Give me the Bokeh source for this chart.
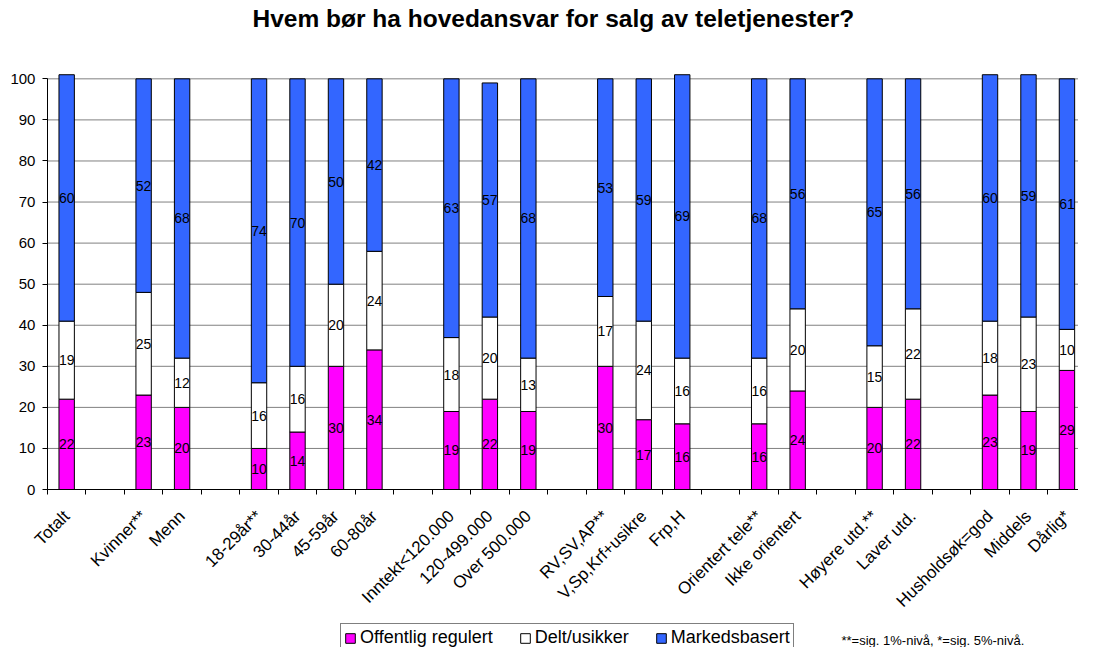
import math
from bokeh.plotting import figure
from bokeh.models import ColumnDataSource, FixedTicker, Range1d, Legend, LegendItem, Title, Label
from bokeh.embed import file_html
from bokeh.resources import INLINE
from bokeh.core.properties import value

# ---- data ----
slots = ["Totalt", "", "Kvinner**", "Menn", "", "18-29år**", "30-44år", "45-59år",
         "60-80år", "", "Inntekt<120.000", "120-499.000", "Over 500.000", "",
         "RV,SV,AP**", "V,Sp,Krf+usikre", "Frp,H", "", "Orientert tele**",
         "Ikke orientert", "", "Høyere utd.**", "Laver utd.", "", "Husholdsøk=god",
         "Middels", "Dårlig*"]
categories = [c for c in slots if c]
offentlig = [22, 23, 20, 10, 14, 30, 34, 19, 22, 19, 30, 17, 16, 16, 24, 20, 22, 23, 19, 29]
delt = [19, 25, 12, 16, 16, 20, 24, 18, 20, 13, 17, 24, 16, 16, 20, 15, 22, 18, 23, 10]
marked = [60, 52, 68, 74, 70, 50, 42, 63, 57, 68, 53, 59, 69, 68, 56, 65, 56, 60, 59, 61]
series_names = ["Offentlig regulert", "Delt/usikker", "Markedsbasert"]
y_ticks = [0, 10, 20, 30, 40, 50, 60, 70, 80, 90, 100]
title_text = "Hvem bør ha hovedansvar for salg av teletjenester?"
note_text = "**=sig. 1%-nivå, *=sig. 5%-nivå."

colors = ["#FF00FF", "#FFFFFF", "#3366FF"]
FONT = "Liberation Sans"

xs = [slots.index(c) for c in categories]
b0 = [0] * len(categories)
t0 = [a for a in offentlig]
t1 = [a + b for a, b in zip(offentlig, delt)]
t2 = [a + b + c for a, b, c in zip(offentlig, delt, marked)]

src = ColumnDataSource(dict(
    x=xs, b0=b0, t0=t0, t1=t1, t2=t2,
    m0=[(a + b) / 2 for a, b in zip(b0, t0)],
    m1=[(a + b) / 2 for a, b in zip(t0, t1)],
    m2=[(a + b) / 2 for a, b in zip(t1, t2)],
    l0=[str(v) for v in offentlig],
    l1=[str(v) for v in delt],
    l2=[str(v) for v in marked],
))

X_START, X_END = -1.72, 26.3
AXIS_X = -0.5

W, H = 1078, 647
# the frame fills the canvas below the title; both axes are pinned inside it
p = figure(width=W, height=H, output_backend="svg", toolbar_location=None,
           title=None,
           x_range=Range1d(X_START, X_END), y_range=Range1d(-38.47, 101.3),
           min_border_left=0, min_border_right=0, min_border_top=73,
           min_border_bottom=0)
p.outline_line_color = None
p.background_fill_color = "white"
p.border_fill_color = "white"

# spacer between frame and title, then the title itself
spacer = Title(text=" ", text_font_size="10px", standoff=26)
p.add_layout(spacer, "above")
main_title = Title(text=title_text, align="left", vertical_align="top",
                   offset=252, standoff=2, text_font=FONT,
                   text_font_size="24.5px", text_font_style="bold",
                   text_color="black")
p.add_layout(main_title, "above")

# horizontal gridlines from the y axis to the right edge
p.segment(x0=[AXIS_X] * len(y_ticks), x1=[X_END] * len(y_ticks),
          y0=y_ticks, y1=y_ticks, line_color="#808080", line_width=1,
          level="underlay")

bw = 0.4
r0 = p.vbar(x="x", bottom="b0", top="t0", width=bw, source=src,
            fill_color=colors[0], line_color="black", line_width=1)
r1 = p.vbar(x="x", bottom="t0", top="t1", width=bw, source=src,
            fill_color=colors[1], line_color="black", line_width=1)
r2 = p.vbar(x="x", bottom="t1", top="t2", width=bw, source=src,
            fill_color=colors[2], line_color="black", line_width=1)

for m, l in (("m0", "l0"), ("m1", "l1"), ("m2", "l2")):
    p.text(x="x", y=m, text=l, source=src, text_align="center",
           text_baseline="middle", text_font=value(FONT),
           text_font_size="14px", text_color="black")

# y axis (pinned at the left edge of the first category slot)
p.yaxis.fixed_location = AXIS_X
p.yaxis.ticker = FixedTicker(ticks=y_ticks)
p.yaxis.bounds = (0, 100)
p.yaxis.axis_line_color = "black"
p.yaxis.major_tick_line_color = "black"
p.yaxis.major_tick_out = 5
p.yaxis.major_tick_in = 0
p.yaxis.minor_tick_line_color = None
p.yaxis.major_label_text_font = FONT
p.yaxis.major_label_text_font_size = "15px"
p.yaxis.major_label_text_color = "black"
p.yaxis.major_label_standoff = 7

# x axis: labels at centers, tick marks at boundaries (minor)
p.xaxis.fixed_location = 0
p.xaxis.bounds = (AXIS_X, X_END)
p.xaxis.ticker = FixedTicker(ticks=xs,
                             minor_ticks=[i + 0.5 for i in range(-1, len(slots))])
p.xaxis.major_label_overrides = {x: c for x, c in zip(xs, categories)}
p.xaxis.major_tick_line_color = None
p.xaxis.minor_tick_line_color = "black"
p.xaxis.minor_tick_out = 5
p.xaxis.minor_tick_in = 0
p.xaxis.axis_line_color = "black"
p.xaxis.major_label_orientation = math.pi / 4
p.xaxis.major_label_text_font = FONT
p.xaxis.major_label_text_font_size = "17px"
p.xaxis.major_label_text_color = "black"
p.xaxis.major_label_standoff = 18

p.xgrid.grid_line_color = None
p.ygrid.grid_line_color = None

legend = Legend(items=[LegendItem(label=series_names[0], renderers=[r0]),
                       LegendItem(label=series_names[1], renderers=[r1]),
                       LegendItem(label=series_names[2], renderers=[r2])],
                orientation="horizontal", location=(340, -5))
legend.border_line_color = "black"
legend.border_line_width = 1
legend.background_fill_color = "white"
legend.label_text_font = FONT
legend.label_text_font_size = "18px"
legend.label_text_color = "black"
legend.glyph_width = 12
legend.glyph_height = 12
legend.label_standoff = 4
legend.spacing = 26
legend.padding = 3
legend.margin = 0
legend.label_height = 18
p.add_layout(legend, "center")

note = Label(x=841, y=7, x_units="screen", y_units="screen", text=note_text,
             text_font=FONT, text_font_size="13px", text_baseline="middle",
             text_color="black")
p.add_layout(note)

open("out.html", "w").write(file_html(p, INLINE))
